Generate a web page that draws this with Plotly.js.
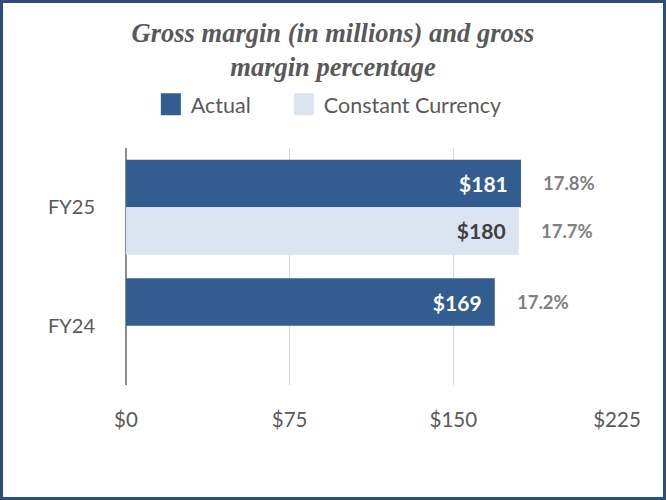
<!DOCTYPE html>
<html>
<head>
<meta charset="utf-8">
<script src="https://cdn.plot.ly/plotly-3.0.1.min.js"></script>
<style>
  html, body { margin: 0; padding: 0; background: #fff; }
  #chart {
    width: 666px; height: 500px;
    box-sizing: border-box;
    border: 3px solid #2e4c7c;
  }
</style>
</head>
<body>
<div id="chart"></div>
<script>
const years = ["FY25", "FY24"];
const actual = [181, 169];
const constantCurrency = [180, null];
const actualPct = [17.8, 17.2];
const constantPct = [17.7, null];
const xTicks = [0, 75, 150, 225];

const GREY = "#595959";
const FONT = "Lato, 'Open Sans', sans-serif";
const PAD = "\u00a0\u00a0"; // keeps value labels off the bar end

const actualTrace = {
  type: "bar",
  orientation: "h",
  name: "Actual",
  y: years,
  x: actual,
  marker: { color: "#335d91" },
  texttemplate: "$%{x:d}" + PAD,
  textposition: "inside",
  insidetextanchor: "end",
  constraintext: "none",
  textfont: { family: FONT, size: 21, color: "#ffffff", weight: "bold" },
  hoverinfo: "skip",
};

const ccTrace = {
  type: "bar",
  orientation: "h",
  name: "Constant Currency",
  y: years,
  x: constantCurrency,
  marker: { color: "#dbe4f0" },
  texttemplate: "$%{x:d}" + PAD,
  textposition: "inside",
  insidetextanchor: "end",
  constraintext: "none",
  textfont: { family: FONT, size: 21, color: "#404040", weight: "bold" },
  hoverinfo: "skip",
};

// percentage labels sit just right of each bar
const annotations = [];
function pctLabels(vals, pcts, shift) {
  years.forEach((yr, i) => {
    if (vals[i] == null) return;
    annotations.push({
      x: vals[i],
      y: yr,
      xref: "x",
      yref: "y",
      text: pcts[i].toFixed(1) + "%",
      showarrow: false,
      xanchor: "left",
      xshift: 20,
      yshift: shift,
      font: { family: FONT, size: 18.5, color: "#7f7f7f", weight: "bold" },
    });
  });
}
pctLabels(actual, actualPct, 24);
pctLabels(constantCurrency, constantPct, -24);

const layout = {
  width: 660,
  height: 494,
  paper_bgcolor: "#fff",
  plot_bgcolor: "#fff",
  margin: { l: 122.5, r: 46, t: 145, b: 112 },
  barmode: "group",
  bargap: 0.2,
  bargroupgap: 0,
  title: {
    text: "Gross margin (in millions) and gross<br>margin percentage",
    font: { family: "'Liberation Serif', 'Times New Roman', serif", size: 26.5, color: GREY, weight: "bold", style: "italic" },
    x: 0.5,
    xanchor: "center",
    yref: "container",
    y: 0.921,
    yanchor: "top",
  },
  showlegend: true,
  legend: {
    orientation: "h",
    xref: "container",
    yref: "container",
    x: 0.224,
    xanchor: "left",
    y: 0.795,
    yanchor: "middle",
    traceorder: "normal",
    bgcolor: "rgba(0,0,0,0)",
    font: { family: FONT, size: 21.5, color: GREY },
    itemwidth: 30,
    entrywidth: 88,
  },
  xaxis: {
    range: [0, 225],
    tickvals: xTicks,
    ticktext: xTicks.map(v => "$" + v),
    showgrid: true,
    gridcolor: "#d9d9d9",
    gridwidth: 1.5,
    zeroline: true,
    zerolinecolor: "#8c8c8c",
    zerolinewidth: 1.5,
    showline: false,
    ticks: "",
    ticklabelstandoff: 20,
    tickfont: { family: FONT, size: 20.5, color: GREY },
    fixedrange: true,
  },
  yaxis: {
    type: "category",
    autorange: "reversed",
    showgrid: false,
    showline: false,
    ticks: "",
    ticklabelstandoff: 30,
    tickfont: { family: FONT, size: 20, color: GREY },
    fixedrange: true,
  },
  annotations: annotations,
};

Plotly.newPlot("chart", [actualTrace, ccTrace], layout, { displayModeBar: false, staticPlot: true })
  .then(gd => {
    // bigger legend swatches, like the original
    gd.querySelectorAll(".legend .legendpoints path").forEach(p => {
      p.setAttribute("d", "M10,11H-10V-11H10Z");
    });
    // fixed entry width would clip the long label otherwise
    gd.querySelectorAll(".legend [clip-path]").forEach(el => el.removeAttribute("clip-path"));
  });
</script>
</body>
</html>
